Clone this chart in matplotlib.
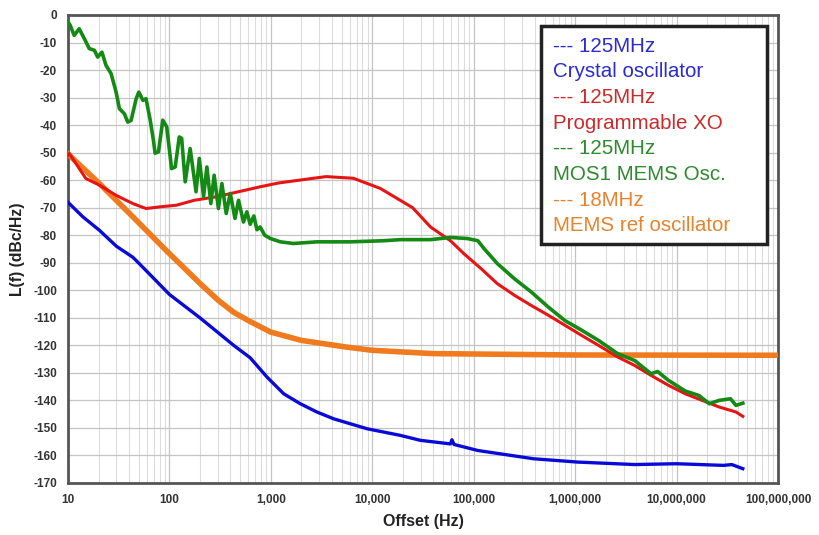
import matplotlib
matplotlib.use('Agg')
import matplotlib.pyplot as plt
from matplotlib.patches import Rectangle
from matplotlib.ticker import FixedLocator, FuncFormatter, LogLocator, NullFormatter

plt.rcParams['font.family'] = ['Liberation Sans', 'DejaVu Sans']
plt.rcParams['axes.unicode_minus'] = False

# 125MHz crystal oscillator
xtal_f = [10, 10.3, 14, 20.4, 30, 43.6, 51, 100, 200, 430, 625, 915, 1340, 1950, 2840,
          4170, 8900, 18900, 29800, 59000, 61000, 64000, 110000, 390000, 1.06e6,
          3.86e6, 1e7, 2.9e7, 3.5e7, 4.5e7]
xtal_db = [-68, -68.5, -73.3, -78.2, -84, -88, -90.5, -101.5, -110, -120, -124.5, -131.5,
           -137.6, -141.2, -144.2, -146.7, -150.3, -152.7, -154.5, -155.8, -154.3, -156,
           -158.2, -161.2, -162.4, -163.3, -163, -163.6, -163.3, -164.8]

# 125MHz programmable XO
pxo_f = [10, 10.3, 15, 20.4, 29.8, 43.6, 58.8, 80, 117, 176, 292, 785, 1200, 2400, 3500,
         6500, 12000, 25000, 37500, 59000, 80000, 118000, 171000, 252000, 369000,
         540000, 793000, 1.16e6, 1.7e6, 2.62e6, 3.86e6, 5.6e6, 8.3e6, 1.22e7, 1.79e7,
         2.63e7, 3.85e7, 4.5e7]
pxo_db = [-51, -50.3, -59.4, -61.8, -65.5, -68.5, -70.3, -69.7, -69.1, -67.3, -66, -62.4,
          -61, -59.5, -58.7, -59.3, -63, -70, -77, -82, -86.7, -92.1, -97.6, -101.8,
          -105.5, -109, -112.7, -116.4, -120, -124.2, -127.3, -130.9, -134.5, -137.6,
          -140, -142.4, -144.2, -145.8]

# 125MHz MOS1 MEMS oscillator
mems_f = [10, 10.5, 11.5, 12.9, 14.5, 16.2, 18.2, 19.6, 21.6, 23.7, 26.6, 29.8, 32.1, 36,
          38.8, 41.9, 47, 49.9, 54.8, 58.8, 64.5, 69.6, 72.2, 78, 86, 94, 105, 114, 125,
          132, 143, 160, 183, 197, 217, 234, 256, 276, 304, 329, 363, 398, 443, 480, 537,
          580, 625, 680, 729, 785, 870, 990, 1240, 1670, 2840, 6060, 12900, 18900, 37500,
          59000, 86600, 110000, 126000, 171000, 252000, 369000, 540000, 793000, 1.16e6,
          1.7e6, 2.62e6, 3.86e6, 5.6e6, 6.5e6, 8.3e6, 1.22e7, 1.66e7, 2.1e7, 2.63e7,
          3.4e7, 3.85e7, 4.5e7]
mems_db = [-2.5, -3.7, -7.4, -5, -8.6, -12.2, -12.8, -15.3, -13.5, -18.3, -21.3, -28, -34,
           -35.9, -38.9, -38.3, -30.4, -28, -31, -30.4, -38, -45.6, -50.2, -49.7, -38.2,
           -40.6, -55.8, -55.2, -44.3, -44.8, -60.6, -48.5, -64.2, -52.1, -66, -55.2,
           -68.5, -58.2, -70.3, -61.2, -72.1, -64.8, -73.9, -67.3, -75.2, -71.5, -76,
           -73, -78, -77, -80, -81.2, -82.4, -83, -82.4, -82.4, -82, -81.6, -81.6, -80.8,
           -81.2, -82, -84.8, -90.3, -95.8, -100.6, -106, -111, -114.5, -118.2, -123,
           -125.5, -130.3, -129.5, -132.7, -136.6, -138.2, -141.2, -140, -139.4, -141.8,
           -141]

# 18MHz MEMS reference oscillator
ref_f = [10, 20.4, 43.6, 92.8, 150, 200, 300, 430, 600, 1000, 2000, 5500, 10000, 40000,
         1e6, 1e8]
ref_db = [-50.5, -61.2, -73.3, -85.5, -93, -97.5, -103.5, -108, -111, -115.2, -118.2,
          -120.6, -121.8, -123, -123.5, -123.6]

x_ticks = [10, 100, 1000, 10000, 100000, 1000000, 10000000, 100000000]

legend_lines = ['--- 125MHz', 'Crystal oscillator', '--- 125MHz', 'Programmable XO',
                '--- 125MHz', 'MOS1 MEMS Osc.', '--- 18MHz', 'MEMS ref oscillator']
legend_colors = ['#2b2bd0', '#2b2bd0', '#cc2a2a', '#cc2a2a',
                 '#2e8a2e', '#2e8a2e', '#e8822e', '#e8822e']

fig = plt.figure(figsize=(8.2, 5.35), dpi=100)
ax = fig.add_axes([68 / 820, 1 - 483 / 535, 710 / 820, 468 / 535])

ax.plot(ref_f, ref_db, color='#f07a1e', lw=4.0, zorder=3)
ax.plot(xtal_f, xtal_db, color='#0a0ad8', lw=2.4, zorder=4)
ax.plot(pxo_f, pxo_db, color='#e61414', lw=2.2, zorder=4)
ax.plot(mems_f, mems_db, color='#138a13', lw=2.6, zorder=5)

ax.set_xscale('log')
ax.set_xlim(10, 1e8)
ax.set_ylim(-170, 0)
ax.yaxis.set_major_locator(FixedLocator(range(-170, 1, 10)))
ax.xaxis.set_major_locator(FixedLocator(x_ticks))
ax.xaxis.set_minor_locator(LogLocator(base=10, subs=range(2, 10), numticks=100))
ax.xaxis.set_minor_formatter(NullFormatter())
ax.xaxis.set_major_formatter(FuncFormatter(lambda v, p: f'{int(round(v)):,}'))

ax.grid(True, which='major', color='#c4c4c4', lw=0.9)
ax.grid(True, which='minor', axis='x', color='#dcdcdc', lw=0.8)
ax.set_axisbelow(True)
ax.tick_params(which='both', length=0, labelsize=8.5, colors='#333333', pad=8)
for lbl in ax.get_xticklabels() + ax.get_yticklabels():
    lbl.set_fontweight('bold')
for sp in ax.spines.values():
    sp.set_color('#555555')
    sp.set_linewidth(2)

ax.set_xlabel('Offset (Hz)', fontsize=11.5, fontweight='bold', color='#222222', labelpad=6)
ax.set_ylabel('L(f) (dBc/Hz)', fontsize=11.3, fontweight='bold', color='#222222', labelpad=6)

# legend box
fig.patches.append(Rectangle((541 / 820, 1 - 244 / 535), 226 / 820, 218 / 535,
                             transform=fig.transFigure, facecolor='white',
                             edgecolor='#222222', lw=2.5, zorder=10))
for i, (txt, col) in enumerate(zip(legend_lines, legend_colors)):
    fig.text(553 / 820, 1 - (46 + i * 25.7) / 535, txt, color=col, fontsize=14.8,
             va='center', ha='left', zorder=11)

fig.savefig('out.png', dpi=100)
